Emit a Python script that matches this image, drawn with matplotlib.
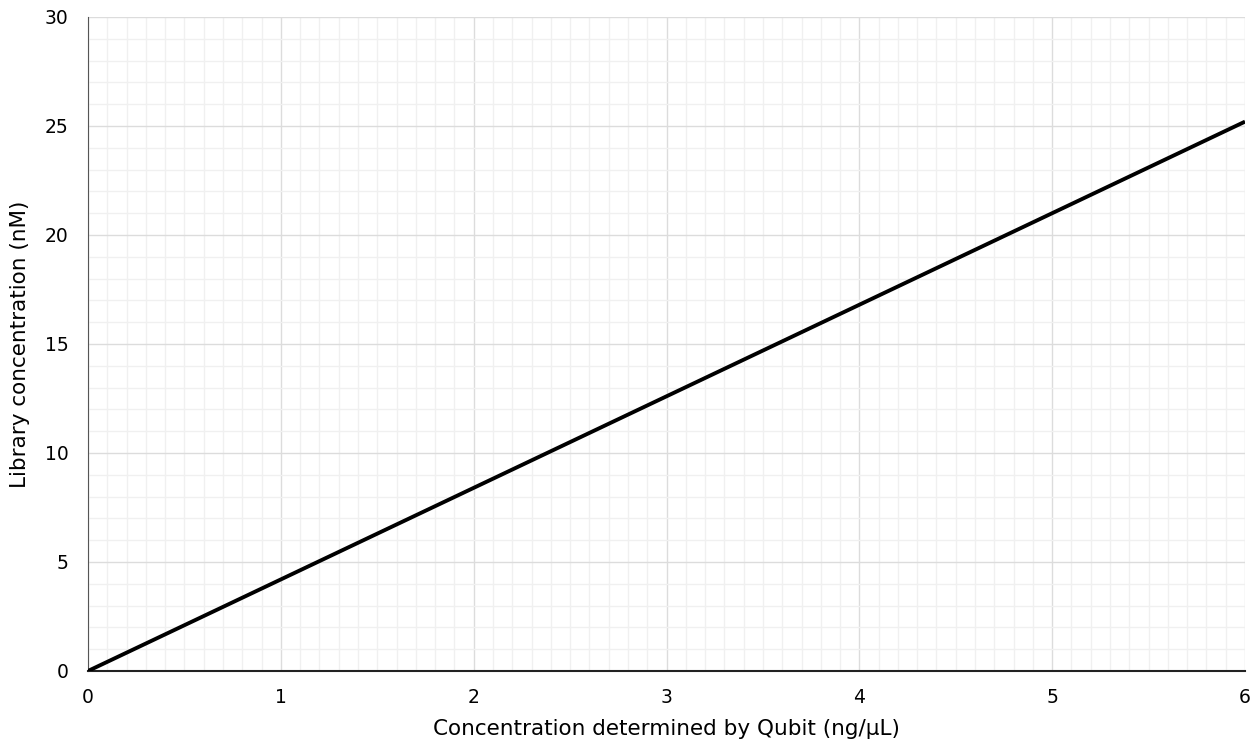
import numpy as np
import matplotlib.pyplot as plt
from matplotlib.ticker import MultipleLocator

# Qubit ng/uL -> library nM
qubit = [0, 1, 2, 3, 4, 5, 6]
library_nm = [0, 4.2, 8.4, 12.6, 16.8, 21.0, 25.2]

fig = plt.figure(figsize=(12.59, 7.42), dpi=100)
ax = fig.add_axes([0.0699, 0.0957, 0.919, 0.8814])

ax.plot(qubit, library_nm, color="black", lw=2.8, solid_capstyle="butt", zorder=3)

ax.set_xlim(0, 6)
ax.set_ylim(0, 30)
ax.xaxis.set_major_locator(MultipleLocator(1))
ax.xaxis.set_minor_locator(MultipleLocator(0.1))
ax.yaxis.set_major_locator(MultipleLocator(5))
ax.yaxis.set_minor_locator(MultipleLocator(1))

ax.grid(True, which="major", color="#dcdcdc", lw=1)
ax.grid(True, which="minor", color="#f0f0f0", lw=1)
ax.set_axisbelow(True)

for s in ["top", "right"]:
    ax.spines[s].set_visible(False)
ax.spines["left"].set_color("#555555")
ax.spines["bottom"].set_color("#222222")
ax.spines["bottom"].set_linewidth(1.5)

ax.tick_params(which="both", length=0)
ax.tick_params(axis="y", pad=14, labelsize=13.5)
ax.tick_params(axis="x", pad=12, labelsize=13.5)

ax.set_xlabel("Concentration determined by Qubit (ng/μL)", fontsize=15.5, labelpad=9)
ax.set_ylabel("Library concentration (nM)", fontsize=15.5, labelpad=11)

fig.savefig("out.png", dpi=100)
